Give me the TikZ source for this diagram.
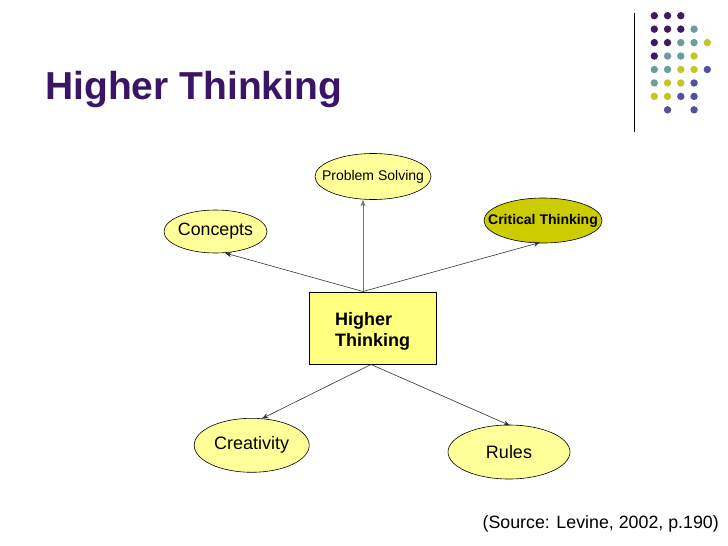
\documentclass[tikz,border=0pt]{standalone}
\usepackage{fontspec}
\setmainfont{Liberation Sans}
\usetikzlibrary{shapes.geometric,arrows.meta}
\definecolor{titlepurple}{HTML}{3B1565}
\definecolor{dpurple}{HTML}{3F1A62}
\definecolor{dteal}{HTML}{6B9C9E}
\definecolor{dyellow}{HTML}{C6C524}
\definecolor{dblue}{HTML}{5151A0}
\definecolor{pale}{HTML}{FFFF99}
\definecolor{boxfill}{HTML}{FFFF80}
\definecolor{olive}{HTML}{CCCC00}
\tikzset{
  bubble/.style={ellipse, draw=black, line width=0.6pt, fill=pale, inner sep=0pt},
  conn/.style={draw=black!80, line width=0.6pt, -{Stealth[length=6.5pt,width=5pt]}},
  dot/.style={circle, inner sep=0pt, minimum size=7.4pt}
}
\begin{document}
\begin{tikzpicture}[x=1pt,y=-1pt]
\useasboundingbox (0,0) rectangle (728,546);
% title
\node[anchor=base west, inner sep=0pt, text=titlepurple, font=\fontsize{39}{44}\selectfont\bfseries] (title) at (45,99) {Higher Thinking};
% vertical rule
\draw[line width=1pt] (634.3,13) -- (634.3,132);
% dots
\foreach \c/\r/\col in {0/0/dpurple,1/0/dpurple,2/0/dpurple,
  0/1/dpurple,1/1/dpurple,2/1/dpurple,3/1/dteal,
  0/2/dpurple,1/2/dpurple,2/2/dteal,3/2/dteal,4/2/dyellow,
  0/3/dpurple,1/3/dteal,2/3/dteal,3/3/dyellow,
  0/4/dteal,1/4/dteal,2/4/dyellow,3/4/dyellow,4/4/dblue,
  0/5/dteal,1/5/dyellow,2/5/dyellow,3/5/dblue,
  0/6/dyellow,1/6/dyellow,2/6/dblue,3/6/dblue,
  1/7/dblue,3/7/dblue}
  \node[dot, fill=\col] (d\c\r) at ({654.3+13.25*\c},{15.7+13.45*\r}) {};
% central box
\node[draw=black, line width=0.6pt, fill=boxfill, minimum width=127pt, minimum height=72pt, inner sep=0pt] (box) at (373,328) {};
\node[anchor=base west, inner sep=0pt, font=\fontsize{18}{21}\selectfont\bfseries] (boxtext1) at (335,325) {Higher};
\node[anchor=base west, inner sep=0pt, font=\fontsize{18}{21}\selectfont\bfseries] (boxtext2) at (335,346.5) {Thinking};
% ellipses (text set as centre labels so the outline keeps its measured size)
\node[bubble, minimum width=116pt, minimum height=46pt,
  label={[font=\fontsize{14}{16}\selectfont]center:Problem Solving}] (ps) at (373,176.5) {};
\node[bubble, fill=olive, minimum width=118pt, minimum height=45pt,
  label={[font=\fontsize{14}{16}\selectfont\bfseries]center:Critical Thinking}] (ct) at (543,220.5) {};
\node[bubble, minimum width=103pt, minimum height=43pt,
  label={[font=\fontsize{17.8}{20}\selectfont]center:Concepts}] (co) at (215.5,231.5) {};
\node[bubble, minimum width=115pt, minimum height=54pt,
  label={[font=\fontsize{18}{20}\selectfont]center:Creativity}] (cr) at (251.7,445.3) {};
\node[bubble, minimum width=122pt, minimum height=54pt,
  label={[font=\fontsize{18}{20}\selectfont]center:Rules}] (ru) at (509,452) {};
% source
\node[anchor=base east, inner sep=0pt, font=\fontsize{17.8}{20}\selectfont] (src) at (719,528) {(Source: Levine, 2002, p.190)};
% connector origins
\coordinate (top) at (363,291.5);
\coordinate (bot) at (371,364.5);
\draw[conn, draw=black!55] (top) -- (ps.south -| top);
\draw[conn] (top) -- (225,253);
\draw[conn] (top) -- (540,242.5);
\draw[conn] (bot) -- (262,418.5);
\draw[conn] (bot) -- (510,425.5);
\end{tikzpicture}
\end{document}
